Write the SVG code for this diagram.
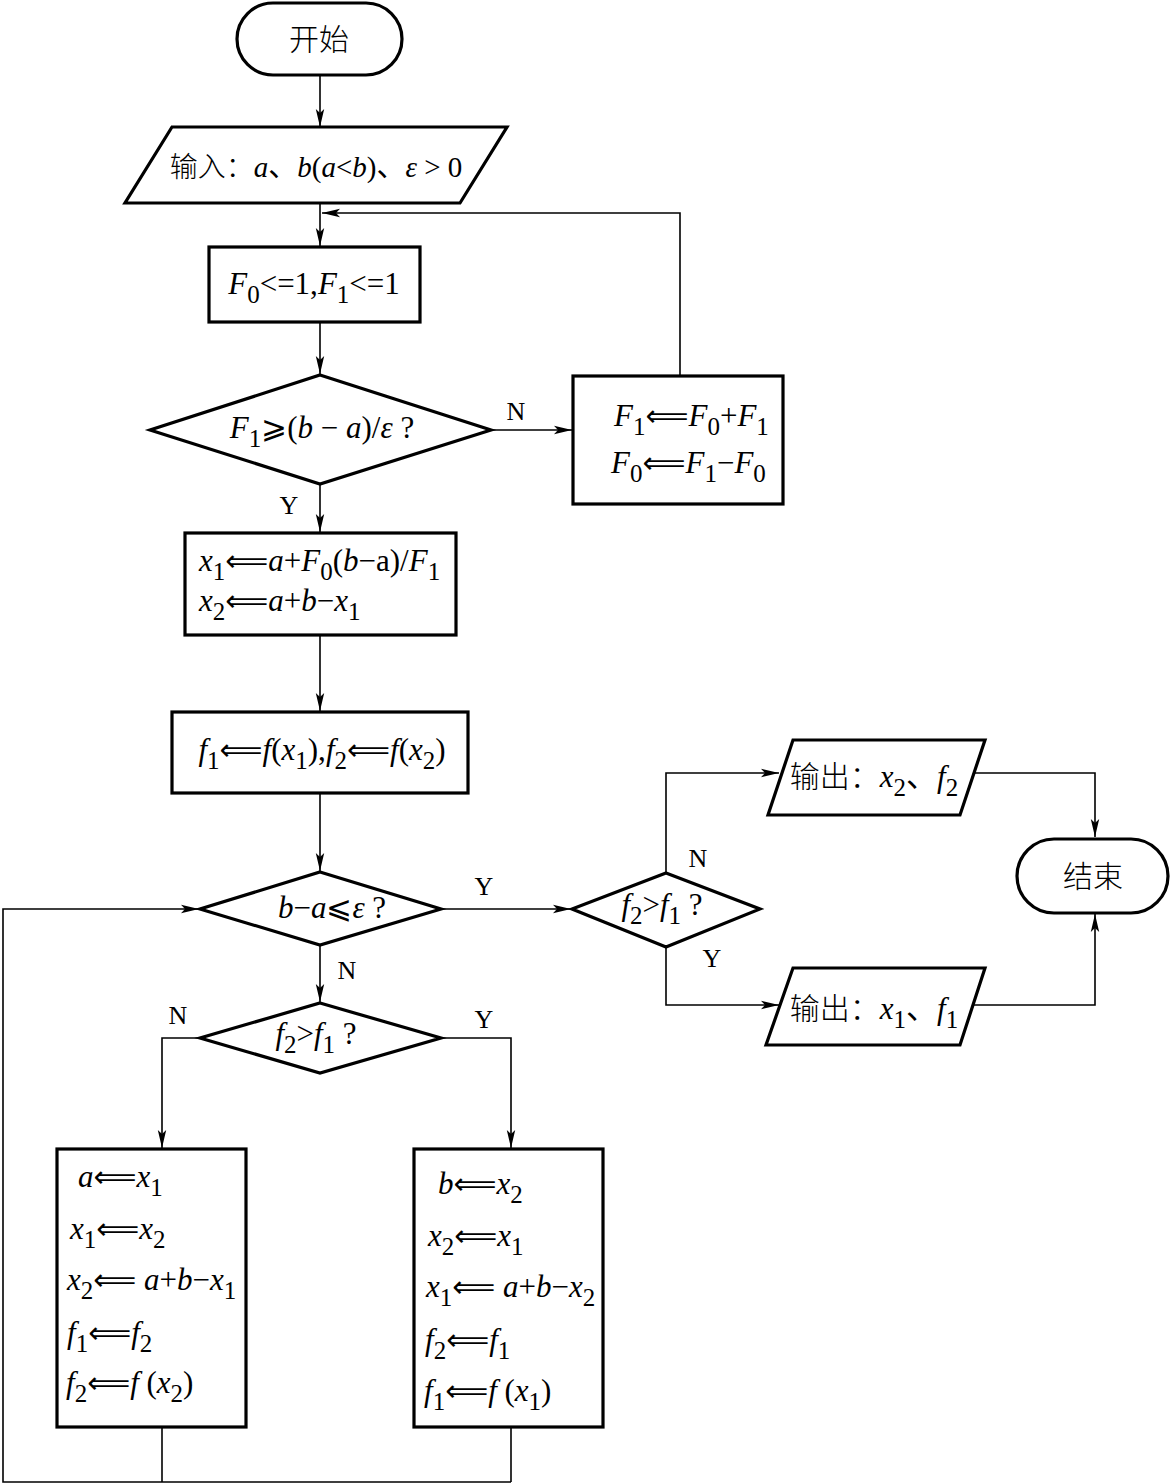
<svg xmlns="http://www.w3.org/2000/svg" width="1171" height="1484" viewBox="0 0 1171 1484">
<style>
.bg{fill:#fff}
.shape{fill:#fff;stroke:#000;stroke-width:3.2;stroke-linejoin:miter}
.conn{fill:none;stroke:#000;stroke-width:1.6}
.t{font-family:"Liberation Serif","Noto Sans CJK SC",serif;font-size:31px;fill:#000}
.cn{font-family:"Noto Sans CJK SC",sans-serif;font-size:30px;fill:#000;font-weight:300}
.lbl{font-family:"Liberation Serif",serif;font-size:26px;fill:#000}
.i{font-style:italic}
.s{font-size:25px;font-style:normal}
.ar{font-family:"DejaVu Sans",sans-serif;font-size:30px}
.inp{font-size:29px}
.inp .cn{font-size:28px}
</style>
<defs>
<marker id="ah" markerUnits="userSpaceOnUse" markerWidth="20" markerHeight="10" refX="18" refY="5" orient="auto">
<path d="M0,0.8 L18,5 L0,9.2 L4,5 Z" fill="#000"/>
</marker>
</defs>
<rect class="bg" x="0" y="0" width="1171" height="1484"/>

<g id="connectors">
<line class="conn" x1="320" y1="75" x2="320" y2="127" marker-end="url(#ah)"/>
<line class="conn" x1="320" y1="203" x2="320" y2="246" marker-end="url(#ah)"/>
<polyline class="conn" points="680,376 680,213 322,213" marker-end="url(#ah)"/>
<line class="conn" x1="320" y1="322" x2="320" y2="374" marker-end="url(#ah)"/>
<line class="conn" x1="491" y1="430" x2="572" y2="430" marker-end="url(#ah)"/>
<line class="conn" x1="320" y1="484" x2="320" y2="532" marker-end="url(#ah)"/>
<line class="conn" x1="320" y1="635" x2="320" y2="711" marker-end="url(#ah)"/>
<line class="conn" x1="320" y1="793" x2="320" y2="871" marker-end="url(#ah)"/>
<line class="conn" x1="441" y1="909" x2="571" y2="909" marker-end="url(#ah)"/>
<polyline class="conn" points="666,873 666,773 779,773" marker-end="url(#ah)"/>
<polyline class="conn" points="666,947 666,1005 779,1005" marker-end="url(#ah)"/>
<polyline class="conn" points="972,773 1095,773 1095,837" marker-end="url(#ah)"/>
<polyline class="conn" points="972,1005 1095,1005 1095,914" marker-end="url(#ah)"/>
<line class="conn" x1="320" y1="945" x2="320" y2="1002" marker-end="url(#ah)"/>
<polyline class="conn" points="200,1038 162,1038 162,1148" marker-end="url(#ah)"/>
<polyline class="conn" points="441,1038 511,1038 511,1148" marker-end="url(#ah)"/>
<line class="conn" x1="162" y1="1427" x2="162" y2="1482"/>
<line class="conn" x1="511" y1="1427" x2="511" y2="1482"/>
<polyline class="conn" points="511,1482 3,1482 3,909 199,909" marker-end="url(#ah)"/>
<text class="lbl" x="516" y="420" text-anchor="middle">N</text>
<text class="lbl" x="289" y="514" text-anchor="middle">Y</text>
<text class="lbl" x="484" y="895" text-anchor="middle">Y</text>
<text class="lbl" x="698" y="867" text-anchor="middle">N</text>
<text class="lbl" x="712" y="967" text-anchor="middle">Y</text>
<text class="lbl" x="347" y="979" text-anchor="middle">N</text>
<text class="lbl" x="178" y="1024" text-anchor="middle">N</text>
<text class="lbl" x="484" y="1028" text-anchor="middle">Y</text>
</g>

<g id="start">
<rect class="shape" x="237" y="3" width="165" height="72" rx="36" ry="36"/>
<text class="cn" x="319" y="50" text-anchor="middle">开始</text>
</g>

<g id="input">
<polygon class="shape" points="172,127 507,127 460,203 125,203"/>
<text class="t inp" x="316" y="177" text-anchor="middle"><tspan class="cn">输入：</tspan><tspan class="i">a</tspan>、<tspan class="i">b</tspan>(<tspan class="i">a</tspan>&lt;<tspan class="i">b</tspan>)、<tspan class="i">ε</tspan> &gt; 0</text>
</g>

<g id="init">
<rect class="shape" x="209" y="247" width="211" height="75"/>
<text class="t" x="314" y="294" text-anchor="middle"><tspan class="i">F</tspan><tspan class="s" dy="9">0</tspan><tspan dy="-9">&lt;=1,</tspan><tspan class="i">F</tspan><tspan class="s" dy="9">1</tspan><tspan dy="-9">&lt;=1</tspan></text>
</g>

<g id="cond1">
<polygon class="shape" points="320,375 491,430 320,484 150,430"/>
<text class="t" x="322" y="438" text-anchor="middle"><tspan class="i">F</tspan><tspan class="s" dy="9">1</tspan><tspan dy="-9">⩾(</tspan><tspan class="i">b</tspan> − <tspan class="i">a</tspan>)/<tspan class="i">ε</tspan> ?</text>
</g>

<g id="update">
<rect class="shape" x="573" y="376" width="210" height="128"/>
<text class="t" x="614" y="426"><tspan class="i">F</tspan><tspan class="s" dy="9">1</tspan><tspan class="ar" dy="-9">⟸</tspan><tspan class="i">F</tspan><tspan class="s" dy="9">0</tspan><tspan dy="-9">+</tspan><tspan class="i">F</tspan><tspan class="s" dy="9">1</tspan></text>
<text class="t" x="611" y="473"><tspan class="i">F</tspan><tspan class="s" dy="9">0</tspan><tspan class="ar" dy="-9">⟸</tspan><tspan class="i">F</tspan><tspan class="s" dy="9">1</tspan><tspan dy="-9">−</tspan><tspan class="i">F</tspan><tspan class="s" dy="9">0</tspan></text>
</g>

<g id="xcalc">
<rect class="shape" x="185" y="533" width="271" height="102"/>
<text class="t" x="199" y="571"><tspan class="i">x</tspan><tspan class="s" dy="9">1</tspan><tspan class="ar" dy="-9">⟸</tspan><tspan class="i">a</tspan>+<tspan class="i">F</tspan><tspan class="s" dy="9">0</tspan><tspan dy="-9">(</tspan><tspan class="i">b</tspan>−a)/<tspan class="i">F</tspan><tspan class="s" dy="9">1</tspan></text>
<text class="t" x="199" y="611"><tspan class="i">x</tspan><tspan class="s" dy="9">2</tspan><tspan class="ar" dy="-9">⟸</tspan><tspan class="i">a</tspan>+<tspan class="i">b</tspan>−<tspan class="i">x</tspan><tspan class="s" dy="9">1</tspan></text>
</g>

<g id="fcalc">
<rect class="shape" x="172" y="712" width="296" height="81"/>
<text class="t" x="322" y="760" text-anchor="middle"><tspan class="i">f</tspan><tspan class="s" dy="9">1</tspan><tspan class="ar" dy="-9">⟸</tspan><tspan class="i">f</tspan>(<tspan class="i">x</tspan><tspan class="s" dy="9">1</tspan><tspan dy="-9">),</tspan><tspan class="i">f</tspan><tspan class="s" dy="9">2</tspan><tspan class="ar" dy="-9">⟸</tspan><tspan class="i">f</tspan>(<tspan class="i">x</tspan><tspan class="s" dy="9">2</tspan><tspan dy="-9">)</tspan></text>
</g>

<g id="cond2">
<polygon class="shape" points="320,872 441,909 320,945 200,909"/>
<text class="t" x="332" y="918" text-anchor="middle"><tspan class="i">b</tspan>−<tspan class="i">a</tspan>⩽<tspan class="i">ε</tspan> ?</text>
</g>

<g id="cond3">
<polygon class="shape" points="666,873 760,909 666,947 572,909"/>
<text class="t" x="662" y="915" text-anchor="middle"><tspan class="i">f</tspan><tspan class="s" dy="9">2</tspan><tspan dy="-9">&gt;</tspan><tspan class="i">f</tspan><tspan class="s" dy="9">1</tspan><tspan dy="-9"> ?</tspan></text>
</g>

<g id="output2">
<polygon class="shape" points="793,740 985,740 960,815 768,815"/>
<text class="t" x="874" y="787" text-anchor="middle"><tspan class="cn">输出：</tspan><tspan class="i">x</tspan><tspan class="s" dy="9">2</tspan><tspan dy="-9">、</tspan><tspan class="i">f</tspan><tspan class="s" dy="9">2</tspan></text>
</g>

<g id="end">
<rect class="shape" x="1017" y="839" width="151" height="74" rx="37" ry="37"/>
<text class="cn" x="1093" y="887" text-anchor="middle">结束</text>
</g>

<g id="output1">
<polygon class="shape" points="793,968 985,968 960,1045 766,1045"/>
<text class="t" x="874" y="1019" text-anchor="middle"><tspan class="cn">输出：</tspan><tspan class="i">x</tspan><tspan class="s" dy="9">1</tspan><tspan dy="-9">、</tspan><tspan class="i">f</tspan><tspan class="s" dy="9">1</tspan></text>
</g>

<g id="cond4">
<polygon class="shape" points="320,1003 441,1038 320,1073 200,1038"/>
<text class="t" x="316" y="1044" text-anchor="middle"><tspan class="i">f</tspan><tspan class="s" dy="9">2</tspan><tspan dy="-9">&gt;</tspan><tspan class="i">f</tspan><tspan class="s" dy="9">1</tspan><tspan dy="-9"> ?</tspan></text>
</g>

<g id="leftbox">
<rect class="shape" x="57" y="1149" width="189" height="278"/>
<text class="t" x="78" y="1187"><tspan class="i">a</tspan><tspan class="ar">⟸</tspan><tspan class="i">x</tspan><tspan class="s" dy="9">1</tspan></text>
<text class="t" x="70" y="1239"><tspan class="i">x</tspan><tspan class="s" dy="9">1</tspan><tspan class="ar" dy="-9">⟸</tspan><tspan class="i">x</tspan><tspan class="s" dy="9">2</tspan></text>
<text class="t" x="67" y="1290"><tspan class="i">x</tspan><tspan class="s" dy="9">2</tspan><tspan class="ar" dy="-9">⟸</tspan><tspan class="i"> a</tspan>+<tspan class="i">b</tspan>−<tspan class="i">x</tspan><tspan class="s" dy="9">1</tspan></text>
<text class="t" x="67" y="1343"><tspan class="i">f</tspan><tspan class="s" dy="9">1</tspan><tspan class="ar" dy="-9">⟸</tspan><tspan class="i">f</tspan><tspan class="s" dy="9">2</tspan></text>
<text class="t" x="66" y="1393"><tspan class="i">f</tspan><tspan class="s" dy="9">2</tspan><tspan class="ar" dy="-9">⟸</tspan><tspan class="i">f</tspan> (<tspan class="i">x</tspan><tspan class="s" dy="9">2</tspan><tspan dy="-9">)</tspan></text>
</g>

<g id="rightbox">
<rect class="shape" x="414" y="1149" width="189" height="278"/>
<text class="t" x="438" y="1194"><tspan class="i">b</tspan><tspan class="ar">⟸</tspan><tspan class="i">x</tspan><tspan class="s" dy="9">2</tspan></text>
<text class="t" x="428" y="1246"><tspan class="i">x</tspan><tspan class="s" dy="9">2</tspan><tspan class="ar" dy="-9">⟸</tspan><tspan class="i">x</tspan><tspan class="s" dy="9">1</tspan></text>
<text class="t" x="426" y="1297"><tspan class="i">x</tspan><tspan class="s" dy="9">1</tspan><tspan class="ar" dy="-9">⟸</tspan><tspan class="i"> a</tspan>+<tspan class="i">b</tspan>−<tspan class="i">x</tspan><tspan class="s" dy="9">2</tspan></text>
<text class="t" x="425" y="1350"><tspan class="i">f</tspan><tspan class="s" dy="9">2</tspan><tspan class="ar" dy="-9">⟸</tspan><tspan class="i">f</tspan><tspan class="s" dy="9">1</tspan></text>
<text class="t" x="424" y="1401"><tspan class="i">f</tspan><tspan class="s" dy="9">1</tspan><tspan class="ar" dy="-9">⟸</tspan><tspan class="i">f</tspan> (<tspan class="i">x</tspan><tspan class="s" dy="9">1</tspan><tspan dy="-9">)</tspan></text>
</g>
</svg>
